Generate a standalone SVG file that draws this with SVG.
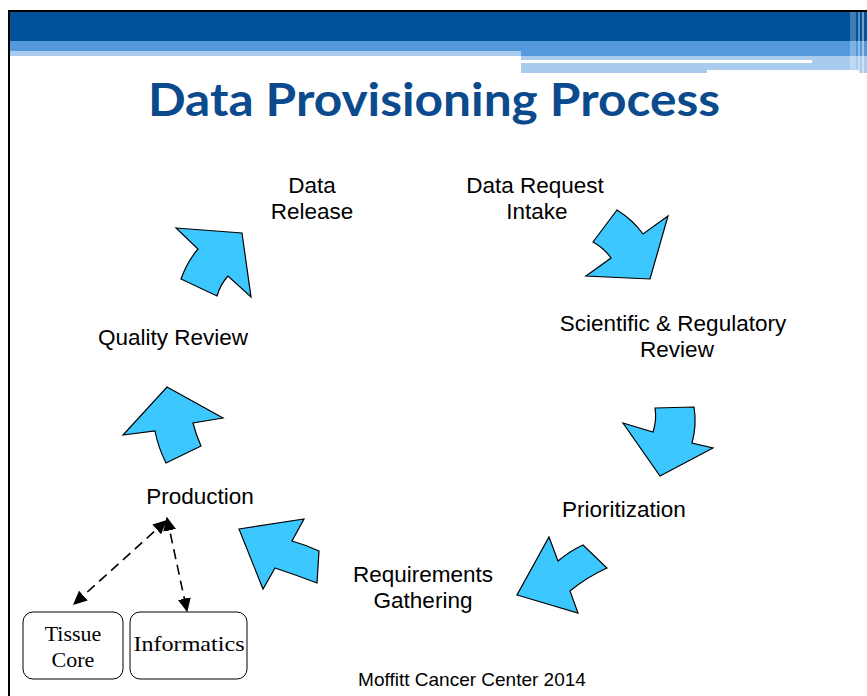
<svg xmlns="http://www.w3.org/2000/svg" width="867" height="696" viewBox="0 0 867 696">
<style>
.lbl{font-family:"Liberation Sans",Arial,sans-serif;font-size:22.5px;fill:#000;text-anchor:middle}
.ser{font-family:"Liberation Serif","Times New Roman",serif;font-size:22px;fill:#000;text-anchor:middle}
.arr{fill:#3cc8ff;stroke:#000;stroke-width:1.2;stroke-linejoin:miter}
.box{fill:#fff;stroke:#000;stroke-width:1}
.dash{fill:none;stroke:#000;stroke-width:1.6;stroke-dasharray:10,6}
</style>
<defs>
<marker id="ah" viewBox="0 0 10 10" refX="9" refY="5" markerWidth="14" markerHeight="13" orient="auto-start-reverse" markerUnits="userSpaceOnUse" preserveAspectRatio="none">
<path d="M0,0 L10,5 L0,10 Z" fill="#000"/>
</marker>
</defs>
<rect width="867" height="696" fill="#fff"/>
<g id="header">
<rect x="9" y="12" width="858" height="29" fill="#00529b"/>
<rect x="9" y="41" width="858" height="10" fill="#5599dd"/>
<rect x="9" y="51" width="512" height="5" fill="#a9ccee"/>
<rect x="521" y="51" width="346" height="5" fill="#5599dd"/>
<rect x="521" y="56" width="346" height="17" fill="#a9ccee"/>
<rect x="521" y="60" width="291" height="3" fill="#fff"/>
<rect x="707" y="70" width="152" height="3" fill="#fff"/>
<rect x="850" y="12" width="6" height="61" fill="#fff" opacity="0.25"/>
<rect x="858" y="12" width="2" height="61" fill="#fff" opacity="0.35"/>
<rect x="862" y="12" width="2" height="61" fill="#fff" opacity="0.45"/>
<rect x="8" y="10" width="859" height="2" fill="#000"/>
<rect x="8" y="10" width="2" height="686" fill="#000"/>
</g>
<text id="title" x="434" y="116" text-anchor="middle" textLength="572" lengthAdjust="spacingAndGlyphs" style="font-family:Lato,'Open Sans',sans-serif;font-weight:bold;font-size:46px;fill:#0b4a8c">Data Provisioning Process</text>
<g id="arrows">
<path class="arr" d="M176,228 L242,233 L251,297 L228,276 Q220,285 217,296 L181,279 Q187,262 198,249 Z"/>
<path class="arr" d="M617,210 Q633,220 643,234 L668,216 L650,279 L586,276 L611,258 Q604,248 593,242 Z"/>
<path class="arr" d="M655,408 L694,407 Q697,425 692,443 L713,448 L660,476 L623,423 L653,432 Q657,420 655,408 Z"/>
<path class="arr" d="M549,537 L558,561 Q570,551 583,545 L607,568 Q587,577 570,591 L578,613 L517,595 Z"/>
<path class="arr" d="M239,529 L304,519 L292,541 Q306,545 319,551 L317,583 Q296,575 275,568 L263,589 Z"/>
<path class="arr" d="M167,387 L223,418 L193,423 Q196,435 201,446 L166,463 Q158,447 155,431 L123,435 Z"/>
</g>
<g id="n-release"><text class="lbl" x="312" y="193">Data</text><text class="lbl" x="312" y="219">Release</text></g>
<g id="n-intake"><text class="lbl" x="535" y="193">Data Request</text><text class="lbl" x="537" y="219">Intake</text></g>
<g id="n-review"><text class="lbl" x="673" y="331">Scientific &amp; Regulatory</text><text class="lbl" x="677" y="357">Review</text></g>
<g id="n-prior"><text class="lbl" x="624" y="517">Prioritization</text></g>
<g id="n-req"><text class="lbl" x="423" y="582">Requirements</text><text class="lbl" x="423" y="608">Gathering</text></g>
<g id="n-prod"><text class="lbl" x="200" y="504">Production</text></g>
<g id="n-quality"><text class="lbl" x="173" y="345">Quality Review</text></g>
<g id="connectors">
<line class="dash" x1="166" y1="521" x2="74" y2="604" marker-start="url(#ah)" marker-end="url(#ah)"/>
<line class="dash" x1="167" y1="518" x2="187" y2="611" marker-start="url(#ah)" marker-end="url(#ah)"/>
</g>
<g id="n-tissue"><rect class="box" x="23" y="612" width="100" height="67" rx="10"/><text class="ser" x="73" y="641">Tissue</text><text class="ser" x="73" y="667">Core</text></g>
<g id="n-info"><rect class="box" x="130" y="612" width="117" height="67" rx="10"/><text class="ser" x="189" y="651" textLength="111" lengthAdjust="spacingAndGlyphs">Informatics</text></g>
<text id="footer" x="472" y="686" text-anchor="middle" style="font-family:'Liberation Sans',Arial,sans-serif;font-size:19px;fill:#000">Moffitt Cancer Center 2014</text>
</svg>
